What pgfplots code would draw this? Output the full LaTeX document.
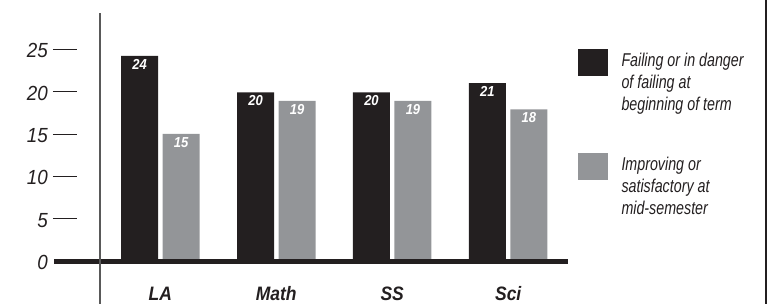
\documentclass[border=0pt]{standalone}
\usepackage{pgfplots}
\pgfplotsset{compat=1.18}
\usepackage{fontspec}
\setmainfont{Liberation Sans}[FakeStretch=0.9]
\newfontfamily\legfont{Liberation Sans}[FakeStretch=0.77]
\newfontfamily\tickfont{Liberation Sans}[FakeStretch=0.92]
\definecolor{darkbar}{HTML}{231F20}
\definecolor{graybar}{HTML}{939598}
\definecolor{txt}{HTML}{231F20}
\newcommand{\tk}[1]{#1\hspace{5bp}\rule[8bp]{24bp}{0.9bp}}
\begin{document}
\begin{tikzpicture}
\begin{axis}[
  at={(0,0)}, anchor=south west,
  scale only axis, width=768bp, height=304bp,
  xmin=-1.3823, xmax=5.2402,
  ymin=-4.98, ymax=30.91,
  axis line style={draw=none},
  major tick length=0pt,
  clip=false,
  ybar, bar width=37bp,
  xtick={0,1,2,3},
  xticklabels={LA, Math, SS, Sci},
  xticklabel style={font=\fontsize{19.5}{20}\selectfont\bfseries\itshape, text=txt, anchor=base, inner sep=0pt, yshift=3.5bp},
  ytick={0,5,10,15,20,25},
  yticklabels={0\hspace{5bp}\hphantom{\rule{24bp}{0.9bp}}, \tk{5}, \tk{10}, \tk{15}, \tk{20}, \tk{25}},
  yticklabel style={font=\tickfont\fontsize{20.5}{21}\selectfont\itshape, text=txt, anchor=base east, inner sep=0pt, xshift=77bp, yshift=-7.7bp},
  legend style={at={(0.7526,0.8388)}, anchor=north west, draw=none, fill=none, inner sep=0pt, outer sep=0pt,
    row sep=77.4bp, column sep=14bp, nodes={inner sep=0pt, anchor=base west},
    font=\legfont\fontsize{18.6}{22.3}\selectfont\itshape, text=txt},
  legend image code/.code={\fill[#1] (0bp,-9.7bp) rectangle (29.5bp,17.2bp);},
  legend cell align=left,
]
\addplot[fill=darkbar, draw=none, bar shift=-20.75bp, point meta=explicit symbolic,
  nodes near coords,
  every node near coord/.append style={font=\fontsize{14.5}{15}\selectfont\bfseries\itshape, text=white, anchor=north, inner sep=0pt, yshift=-3bp}]
  coordinates {(0,24.3)[24] (1,20)[20] (2,20)[20] (3,21.1)[21]};
\addlegendentry{\begin{tabular}[t]{@{}l@{}}Failing or in danger\\of failing at\\beginning of term\end{tabular}}
\addplot[fill=graybar, draw=none, bar shift=20.75bp, point meta=explicit symbolic,
  nodes near coords,
  every node near coord/.append style={font=\fontsize{14.5}{15}\selectfont\bfseries\itshape, text=white, anchor=north, inner sep=0pt, yshift=-3bp}]
  coordinates {(0,15.1)[15] (1,19)[19] (2,19)[19] (3,18)[18]};
\addlegendentry{\begin{tabular}[t]{@{}l@{}}Improving or\\satisfactory at\\mid-semester\end{tabular}}
\draw[line width=5bp, darkbar] (axis cs:-0.9166,0) -- (axis cs:3.5156,0);
\draw[line width=1.3bp, color=black!65] (axis cs:-0.52,29.37) -- (axis cs:-0.52,-4.98);
\draw[line width=1.5bp, color=darkbar] (axis cs:5.2229,30.91) -- (axis cs:5.2229,-4.98);
\end{axis}
\pgfresetboundingbox
\path[use as bounding box] (0,0) rectangle (768bp,304bp);
\end{tikzpicture}
\end{document}
